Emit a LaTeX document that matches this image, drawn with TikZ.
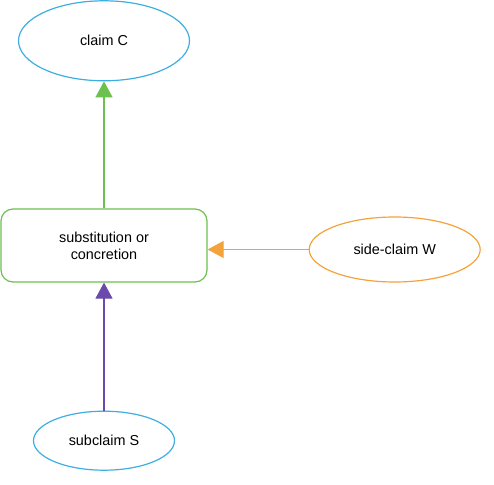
\documentclass[tikz,border=0pt]{standalone}
\usepackage{fontspec}
\setmainfont{Liberation Sans}
\usetikzlibrary{arrows.meta,positioning,shapes.geometric}

\definecolor{claimblue}{RGB}{60,174,224}
\definecolor{stepgreen}{RGB}{108,192,78}
\definecolor{sideorange}{RGB}{244,162,58}
\definecolor{subpurple}{RGB}{106,74,170}

\begin{document}
\begin{tikzpicture}[x=1pt, y=1pt, -{Triangle[length=16pt, width=17pt]}, line width=1.1pt]
        \tikzset{claimstyle/.style={ellipse, draw=claimblue, line width=1.2pt,
            font=\fontsize{14.4}{17}\selectfont, inner sep=0pt}}
        \tikzset{ruledstyle/.style={rectangle, rounded corners=12pt, draw=stepgreen,
            line width=1.2pt, align=center, font=\fontsize{14.4}{17}\selectfont,
            minimum width=206pt, minimum height=73pt}}

        \useasboundingbox (0,0) rectangle (494,484);

        \node[ruledstyle] (subst) at (104,238.5) {substitution or\\concretion};

        \node[claimstyle, minimum width=171pt, minimum height=80pt,
          above=127pt of subst] (claimC) {claim C};
        \node[claimstyle, minimum width=141pt, minimum height=59pt,
          below=128pt of subst] (subS) {subclaim S};
        % side-claim sits a bit lower than the middle of the box
        \node[claimstyle, draw=sideorange, minimum width=171pt, minimum height=65pt,
          right=101pt of subst, yshift=-4pt] (sideW) {side-claim W};

        \draw[draw=stepgreen, -{Triangle[length=16pt, width=17pt, fill=stepgreen]}]
          (subst) -- (claimC);
        \draw[draw=subpurple, -{Triangle[length=16pt, width=17pt, fill=subpurple]}]
          (subS) -- (subst);
        \draw[draw=sideorange, -{Triangle[length=16pt, width=17pt, fill=sideorange]}]
          (sideW.west) -- (sideW.west -| subst.east);
      \end{tikzpicture}
\end{document}
